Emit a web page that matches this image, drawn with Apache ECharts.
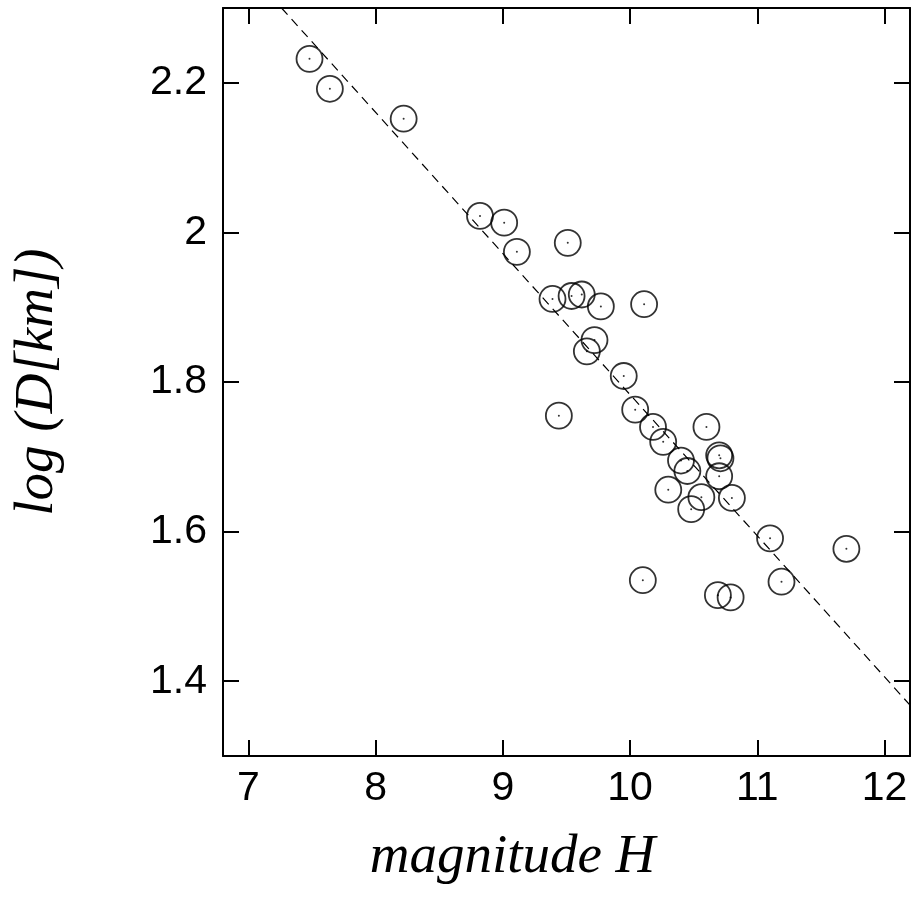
<!DOCTYPE html>
<html>
<head>
<meta charset="utf-8">
<title>log D vs magnitude H</title>
<script src="https://cdn.jsdelivr.net/npm/echarts@6/dist/echarts.min.js"></script>
<style>
  html, body { margin: 0; padding: 0; background: #ffffff; }
  #chart { width: 919px; height: 921px; }
</style>
</head>
<body>
<div id="chart"></div>
<script>
// magnitude H of each asteroid
var magH = [7.48, 7.64, 8.22, 8.82, 9.01, 9.11, 9.51, 9.39, 9.54, 9.62, 9.77, 10.11,
  9.72, 9.66, 9.95, 9.44, 10.04, 10.18, 10.26, 10.60, 10.40, 10.45, 10.70, 10.71,
  10.70, 10.30, 10.56, 10.80, 10.48, 11.10, 11.70, 10.10, 10.69, 10.79, 11.19];
// log of diameter in km
var logD = [2.232, 2.192, 2.152, 2.022, 2.013, 1.974, 1.986, 1.911, 1.915, 1.917, 1.901, 1.904,
  1.856, 1.841, 1.808, 1.755, 1.763, 1.740, 1.720, 1.740, 1.695, 1.681, 1.702, 1.698,
  1.674, 1.656, 1.646, 1.645, 1.630, 1.591, 1.577, 1.535, 1.515, 1.512, 1.533];

// dashed fit line end points
var fitH = [7.26, 12.2];
var fitLogD = [2.3, 1.368];

// tick labels
var xTicks = [7, 8, 9, 10, 11, 12];
var yTicks = [1.4, 1.6, 1.8, 2.0, 2.2];

var points = magH.map(function (h, i) { return [h, logD[i]]; });
var fitLine = fitH.map(function (h, i) { return [h, fitLogD[i]]; });

var sansFont = 'Liberation Sans, Arial, sans-serif';
var serifFont = 'Liberation Serif, Times New Roman, serif';

function frameAxis(pos, ticks, min, max, extra) {
  var ax = {
    type: 'value',
    position: pos,
    min: min,
    max: max,
    splitLine: { show: false },
    axisLine: { show: true, onZero: false, lineStyle: { color: '#000', width: 2 } },
    axisTick: { show: true, inside: true, length: 16, customValues: ticks,
      lineStyle: { color: '#000', width: 2 } },
    axisLabel: { show: false }
  };
  for (var k in extra) ax[k] = extra[k];
  return ax;
}

var chart = echarts.init(document.getElementById('chart'), null, { renderer: 'canvas' });

var option = {
  animation: false,
  backgroundColor: '#ffffff',
  grid: { left: 223, right: 9, top: 8, bottom: 165 },
  xAxis: [
    frameAxis('bottom', xTicks, 6.8, 12.2, {
      name: 'magnitude H',
      nameLocation: 'middle',
      nameGap: 74,
      // title sits a bit left of the plot centre
      nameTextStyle: { fontFamily: serifFont, fontStyle: 'italic', fontSize: 55, color: '#000',
        padding: [0, 108, 0, 0] },
      axisLabel: { show: true, customValues: xTicks, margin: 12,
        fontFamily: sansFont, fontSize: 41, color: '#000' }
    }),
    frameAxis('top', xTicks, 6.8, 12.2, {})
  ],
  yAxis: [
    frameAxis('left', yTicks, 1.3, 2.3, {
      name: 'log (D[km])',
      nameLocation: 'middle',
      nameGap: 158,
      nameTextStyle: { fontFamily: serifFont, fontStyle: 'italic', fontSize: 55, color: '#000' },
      axisLabel: { show: true, customValues: yTicks, margin: 16,
        fontFamily: sansFont, fontSize: 41, color: '#000' }
    }),
    frameAxis('right', yTicks, 1.3, 2.3, {})
  ],
  series: [
    {
      // dashed fit line
      type: 'line',
      data: fitLine,
      symbol: 'none',
      lineStyle: { color: '#000', width: 1.2, type: [9, 6] },
      clip: true
    },
    {
      // open circles
      type: 'scatter',
      data: points,
      symbol: 'circle',
      symbolSize: 26,
      itemStyle: { color: 'rgba(0,0,0,0)', borderColor: '#000', borderWidth: 1.8 }
    },
    {
      // centre dots
      type: 'scatter',
      data: points,
      symbol: 'circle',
      symbolSize: 2,
      itemStyle: { color: '#000' }
    }
  ]
};

chart.setOption(option);
</script>
</body>
</html>
